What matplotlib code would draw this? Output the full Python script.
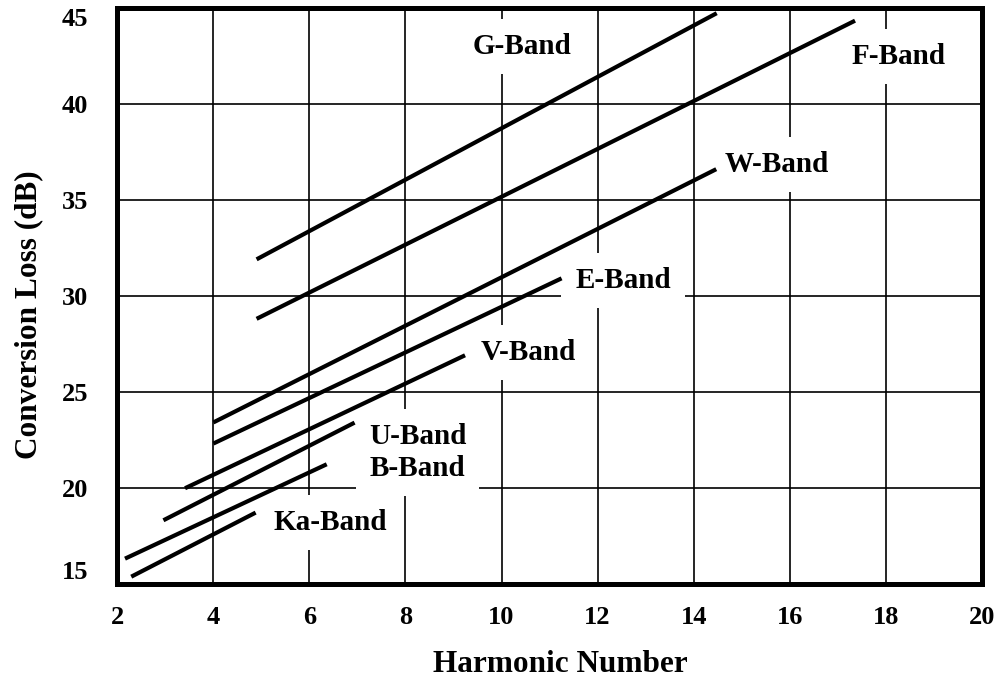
import matplotlib
matplotlib.use("Agg")
import matplotlib.pyplot as plt

# band lines: (start, end) in harmonic number / dB
bands = ["G-Band", "F-Band", "W-Band", "E-Band", "V-Band", "U-Band", "B-Band", "Ka-Band"]
x_start = [4.90, 4.90, 4.00, 4.00, 3.41, 2.96, 2.16, 2.29]
y_start = [31.9, 28.8, 23.4, 22.3, 19.97, 18.3, 16.3, 15.36]
x_end = [14.48, 17.36, 14.47, 11.25, 9.24, 6.94, 6.36, 4.88]
y_end = [44.73, 44.34, 36.6, 30.91, 26.9, 23.39, 21.22, 18.70]

# label anchor points (centre of text)
label_x = [10.42, 18.26, 15.74, 12.53, 10.55, 8.25, 8.25, 6.44]
label_y = [43.0, 42.45, 36.82, 30.82, 27.07, 22.69, 21.02, 18.21]

x_ticks = [2, 4, 6, 8, 10, 12, 14, 16, 18, 20]
y_ticks = [15, 20, 25, 30, 35, 40, 45]

plt.rcParams["font.family"] = ["Liberation Serif", "DejaVu Serif"]
plt.rcParams["font.weight"] = "bold"

fig = plt.figure(figsize=(10.07, 6.79), dpi=100)
ax = fig.add_axes([0.1165, 0.1405, 0.8585, 0.8477])

ax.set_xlim(2, 20)
ax.set_ylim(15, 45)
ax.set_xticks(x_ticks)
ax.set_yticks(y_ticks)
ax.tick_params(length=0, labelsize=19, pad=16)
ax.tick_params(axis="y", pad=21)
for lab in ax.get_xticklabels() + ax.get_yticklabels():
    lab.set_fontweight("bold")
ylabs = ax.get_yticklabels()
ylabs[0].set_verticalalignment("bottom")
ylabs[-1].set_verticalalignment("top")

ax.grid(True, color="black", linewidth=1.2, zorder=1)
ax.set_axisbelow(True)
for sp in ax.spines.values():
    sp.set_linewidth(3.6)
    sp.set_zorder(6)

for i, name in enumerate(bands):
    ax.plot([x_start[i], x_end[i]], [y_start[i], y_end[i]], color="black",
            linewidth=3.0, solid_capstyle="butt", zorder=3)
    # white patch that breaks the grid behind the label
    ax.text(label_x[i], label_y[i], name, ha="center", va="center",
            fontsize=21, fontweight="bold", color="none", zorder=2,
            bbox=dict(boxstyle="square,pad=0.48", fc="white", ec="none"))
    ax.text(label_x[i], label_y[i], name, ha="center", va="center",
            fontsize=21, fontweight="bold", color="black", zorder=4)

ax.set_xlabel("Harmonic Number", fontsize=22.5, fontweight="bold")
ax.set_ylabel("Conversion Loss (dB)", fontsize=22.5, fontweight="bold")
ax.xaxis.set_label_coords(0.5127, -0.1414)
ax.xaxis.label.set_verticalalignment("center")
ax.yaxis.set_label_coords(-0.103, 0.4667)
ax.yaxis.label.set_verticalalignment("center")

fig.savefig("out.png", dpi=100)
